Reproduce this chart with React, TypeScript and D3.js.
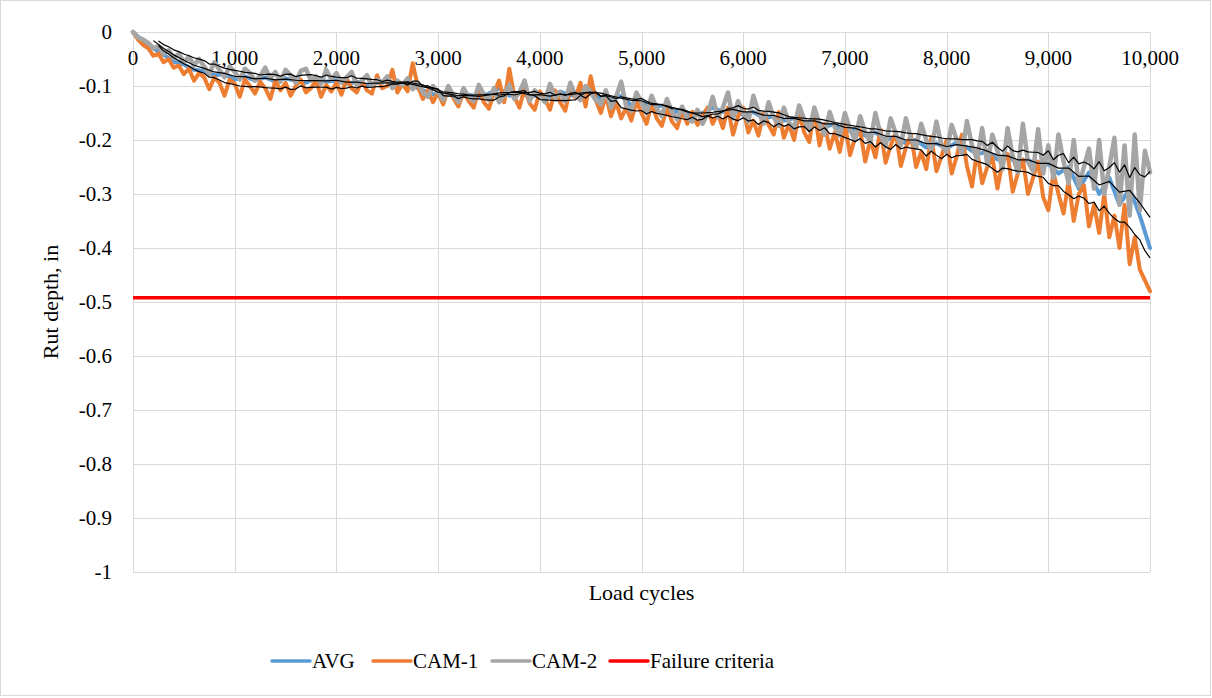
// Rut depth vs load cycles - D3 line chart with moving-average trendlines

import { useEffect, useRef } from "react";
import * as d3 from "d3";

const CYCLES = d3.range(0, 10001, 50);
const AVG_CYCLES = d3.range(0, 10001, 100);

const CAM_1 = [
  0, -0.014, -0.024, -0.03, -0.044, -0.04, -0.056, -0.05, -0.066, -0.062,
  -0.078, -0.068, -0.09, -0.076, -0.084, -0.106, -0.084, -0.094, -0.118, -0.088,
  -0.096, -0.12, -0.088, -0.1, -0.114, -0.092, -0.104, -0.124, -0.09, -0.108,
  -0.094, -0.118, -0.1, -0.088, -0.112, -0.104, -0.09, -0.12, -0.098, -0.11,
  -0.094, -0.116, -0.086, -0.104, -0.112, -0.09, -0.108, -0.114, -0.08, -0.104,
  -0.1, -0.07, -0.112, -0.096, -0.11, -0.058, -0.1, -0.124, -0.108, -0.13,
  -0.112, -0.134, -0.104, -0.122, -0.138, -0.11, -0.128, -0.14, -0.106, -0.13,
  -0.142, -0.112, -0.09, -0.13, -0.068, -0.12, -0.14, -0.104, -0.132, -0.144,
  -0.11, -0.124, -0.144, -0.108, -0.13, -0.146, -0.104, -0.122, -0.094, -0.138,
  -0.082, -0.126, -0.15, -0.118, -0.156, -0.13, -0.16, -0.14, -0.164, -0.128,
  -0.15, -0.17, -0.132, -0.16, -0.174, -0.14, -0.166, -0.178, -0.146, -0.17,
  -0.148, -0.172, -0.156, -0.14, -0.17, -0.15, -0.178, -0.14, -0.19, -0.156,
  -0.14, -0.186, -0.164, -0.192, -0.15, -0.172, -0.19, -0.148, -0.196, -0.17,
  -0.2, -0.15, -0.186, -0.204, -0.144, -0.21, -0.17, -0.216, -0.186, -0.222,
  -0.17, -0.228, -0.196, -0.182, -0.24, -0.2, -0.232, -0.18, -0.242, -0.21,
  -0.186, -0.248, -0.214, -0.19, -0.25, -0.222, -0.254, -0.194, -0.258, -0.23,
  -0.2, -0.262, -0.23, -0.19, -0.248, -0.286, -0.22, -0.28, -0.25, -0.232,
  -0.29, -0.24, -0.226, -0.296, -0.262, -0.236, -0.3, -0.27, -0.24, -0.306,
  -0.33, -0.26, -0.3, -0.336, -0.276, -0.35, -0.3, -0.284, -0.36, -0.32,
  -0.372, -0.3, -0.38, -0.34, -0.4, -0.32, -0.43, -0.38, -0.44, -0.46,
  -0.48,
];

const CAM_2 = [
  0, -0.01, -0.014, -0.02, -0.03, -0.026, -0.04, -0.034, -0.048, -0.04,
  -0.056, -0.046, -0.062, -0.05, -0.064, -0.078, -0.056, -0.07, -0.084, -0.064,
  -0.074, -0.088, -0.068, -0.076, -0.09, -0.082, -0.066, -0.086, -0.074, -0.092,
  -0.07, -0.08, -0.094, -0.072, -0.068, -0.09, -0.082, -0.096, -0.07, -0.088,
  -0.076, -0.094, -0.084, -0.074, -0.098, -0.09, -0.08, -0.1, -0.088, -0.094,
  -0.082, -0.104, -0.09, -0.098, -0.086, -0.106, -0.094, -0.112, -0.12, -0.1,
  -0.112, -0.126, -0.1, -0.118, -0.13, -0.104, -0.12, -0.128, -0.098, -0.116,
  -0.126, -0.104, -0.13, -0.118, -0.098, -0.124, -0.112, -0.09, -0.128, -0.108,
  -0.118, -0.13, -0.096, -0.122, -0.112, -0.128, -0.094, -0.118, -0.126, -0.1,
  -0.112, -0.126, -0.134, -0.108, -0.14, -0.12, -0.092, -0.138, -0.146, -0.112,
  -0.13, -0.15, -0.118, -0.142, -0.156, -0.124, -0.148, -0.162, -0.138, -0.16,
  -0.166, -0.144, -0.17, -0.152, -0.12, -0.158, -0.14, -0.112, -0.16, -0.128,
  -0.15, -0.166, -0.118, -0.148, -0.17, -0.13, -0.158, -0.174, -0.14, -0.168,
  -0.178, -0.136, -0.162, -0.182, -0.14, -0.17, -0.19, -0.148, -0.176, -0.192,
  -0.15, -0.18, -0.2, -0.156, -0.186, -0.204, -0.15, -0.19, -0.212, -0.16,
  -0.188, -0.21, -0.16, -0.198, -0.214, -0.17, -0.2, -0.218, -0.166, -0.21,
  -0.222, -0.172, -0.2, -0.226, -0.165, -0.21, -0.236, -0.178, -0.246, -0.19,
  -0.22, -0.254, -0.178, -0.23, -0.26, -0.17, -0.24, -0.258, -0.18, -0.262,
  -0.21, -0.27, -0.19, -0.24, -0.28, -0.2, -0.285, -0.25, -0.216, -0.29,
  -0.2, -0.3, -0.25, -0.196, -0.32, -0.21, -0.34, -0.19, -0.33, -0.22,
  -0.26,
];

const AVG = [
  0, -0.018, -0.03, -0.042, -0.055, -0.06, -0.07, -0.072, -0.08, -0.078,
  -0.088, -0.082, -0.09, -0.084, -0.092, -0.086, -0.09, -0.094, -0.086, -0.092,
  -0.09, -0.096, -0.092, -0.098, -0.094, -0.09, -0.1, -0.094, -0.104, -0.112,
  -0.118, -0.114, -0.122, -0.116, -0.12, -0.114, -0.104, -0.118, -0.112, -0.12,
  -0.116, -0.12, -0.11, -0.118, -0.112, -0.104, -0.124, -0.126, -0.118, -0.136,
  -0.128, -0.14, -0.136, -0.15, -0.144, -0.156, -0.15, -0.14, -0.148, -0.142,
  -0.154, -0.148, -0.16, -0.156, -0.164, -0.16, -0.17, -0.164, -0.176, -0.17,
  -0.184, -0.18, -0.192, -0.186, -0.2, -0.194, -0.206, -0.2, -0.214, -0.206,
  -0.216, -0.204, -0.214, -0.226, -0.222, -0.236, -0.23, -0.244, -0.236, -0.25,
  -0.244, -0.262, -0.25, -0.29, -0.26, -0.3, -0.27, -0.32, -0.29, -0.34,
  -0.4,
];

const FAILURE_CRITERIA = -0.492;

const X_TICKS = d3.range(0, 10001, 1000);
const Y_TICKS = [0, -0.1, -0.2, -0.3, -0.4, -0.5, -0.6, -0.7, -0.8, -0.9, -1];

const SERIES = [
  { name: "AVG", color: "#5b9bd5", width: 4 },
  { name: "CAM-1", color: "#ed7d31", width: 4 },
  { name: "CAM-2", color: "#a5a5a5", width: 4.5 },
  { name: "Failure criteria", color: "#ff0000", width: 3.5 },
];

const FONT = "'Liberation Serif', 'Times New Roman', Times, 'DejaVu Serif', serif";

// trailing moving average, like Excel's trendline
function movingAverage(xs: number[], ys: number[], period: number) {
  const out: [number, number][] = [];
  for (let i = period - 1; i < ys.length; i++) {
    out.push([xs[i], d3.mean(ys.slice(i - period + 1, i + 1)) as number]);
  }
  return out;
}

export default function App() {
  const svgRef = useRef<SVGSVGElement>(null);
  const width = 1212;
  const height = 698;

  useEffect(() => {
    if (!svgRef.current) return;
    const svg = d3.select(svgRef.current);
    svg.selectAll("*").remove();

    const left = 133;
    const right = 1150;
    const top = 32;
    const bottom = 572;

    const x = d3.scaleLinear().domain([0, 10000]).range([left, right]);
    const y = d3.scaleLinear().domain([0, -1]).range([top, bottom]);

    // chart border
    svg.append("rect")
      .attr("x", 0.5).attr("y", 0.5)
      .attr("width", 1210).attr("height", 695)
      .attr("fill", "#fff")
      .attr("stroke", "#d9d9d9");

    // gridlines
    const grid = svg.append("g").attr("stroke", "#d9d9d9").attr("stroke-width", 1);
    Y_TICKS.forEach((t) => {
      grid.append("line")
        .attr("x1", left).attr("x2", right)
        .attr("y1", Math.round(y(t)) + 0.5).attr("y2", Math.round(y(t)) + 0.5);
    });
    X_TICKS.forEach((t) => {
      grid.append("line")
        .attr("x1", Math.round(x(t)) + 0.5).attr("x2", Math.round(x(t)) + 0.5)
        .attr("y1", top).attr("y2", bottom);
    });

    const fmtY = d3.format(".1~f");

    // y tick labels
    svg.append("g")
      .selectAll("text")
      .data(Y_TICKS)
      .join("text")
      .attr("x", 112)
      .attr("y", (d) => y(d))
      .attr("dy", "0.35em")
      .attr("text-anchor", "end")
      .attr("font-family", FONT)
      .attr("font-size", 21)
      .attr("fill", "#000")
      .text((d) => fmtY(d).replace("−", "-"));

    // x tick labels (axis crosses at 0, labels sit below it)
    svg.append("g")
      .selectAll("text")
      .data(X_TICKS)
      .join("text")
      .attr("x", (d) => x(d))
      .attr("y", 65)
      .attr("text-anchor", "middle")
      .attr("font-family", FONT)
      .attr("font-size", 21)
      .attr("fill", "#000")
      .text((d) => d3.format(",")(d));

    const line = d3.line<[number, number]>()
      .x((d) => x(d[0]))
      .y((d) => y(d[1]));

    const data: [number, number][][] = [
      AVG_CYCLES.map((c, i) => [c, AVG[i]]),
      CYCLES.map((c, i) => [c, CAM_1[i]]),
      CYCLES.map((c, i) => [c, CAM_2[i]]),
    ];

    data.forEach((pts, i) => {
      svg.append("path")
        .attr("d", line(pts))
        .attr("fill", "none")
        .attr("stroke", SERIES[i].color)
        .attr("stroke-width", SERIES[i].width)
        .attr("stroke-linejoin", "round")
        .attr("stroke-linecap", "round");
    });

    // moving-average trendlines
    const trends = [
      movingAverage(AVG_CYCLES, AVG, 3),
      movingAverage(CYCLES, CAM_1, 6),
      movingAverage(CYCLES, CAM_2, 6),
    ];
    trends.forEach((pts) => {
      svg.append("path")
        .attr("d", line(pts))
        .attr("fill", "none")
        .attr("stroke", "#000")
        .attr("stroke-width", 1.2)
        .attr("stroke-linejoin", "round");
    });

    // failure criteria
    svg.append("line")
      .attr("x1", x(0)).attr("x2", x(10000))
      .attr("y1", y(FAILURE_CRITERIA)).attr("y2", y(FAILURE_CRITERIA))
      .attr("stroke", SERIES[3].color)
      .attr("stroke-width", SERIES[3].width);

    // axis titles
    svg.append("text")
      .attr("transform", `translate(58, ${(top + bottom) / 2}) rotate(-90)`)
      .attr("text-anchor", "middle")
      .attr("font-family", FONT)
      .attr("font-size", 22)
      .text("Rut depth, in");

    svg.append("text")
      .attr("x", (left + right) / 2)
      .attr("y", 600)
      .attr("text-anchor", "middle")
      .attr("font-family", FONT)
      .attr("font-size", 22)
      .text("Load cycles");

    // legend
    const legendX = [272, 373, 492, 610];
    const legend = svg.append("g");
    SERIES.forEach((s, i) => {
      legend.append("line")
        .attr("x1", legendX[i]).attr("x2", legendX[i] + 38)
        .attr("y1", 661).attr("y2", 661)
        .attr("stroke", s.color)
        .attr("stroke-width", 3.5)
        .attr("stroke-linecap", "round");
      legend.append("text")
        .attr("x", legendX[i] + 40)
        .attr("y", 668)
        .attr("font-family", FONT)
        .attr("font-size", 21)
        .text(s.name);
    });
  }, []);

  return (
    <svg
      ref={svgRef}
      width={width}
      height={height}
      style={{ position: "absolute", left: 0, top: 0, background: "#fff" }}
    />
  );
}
